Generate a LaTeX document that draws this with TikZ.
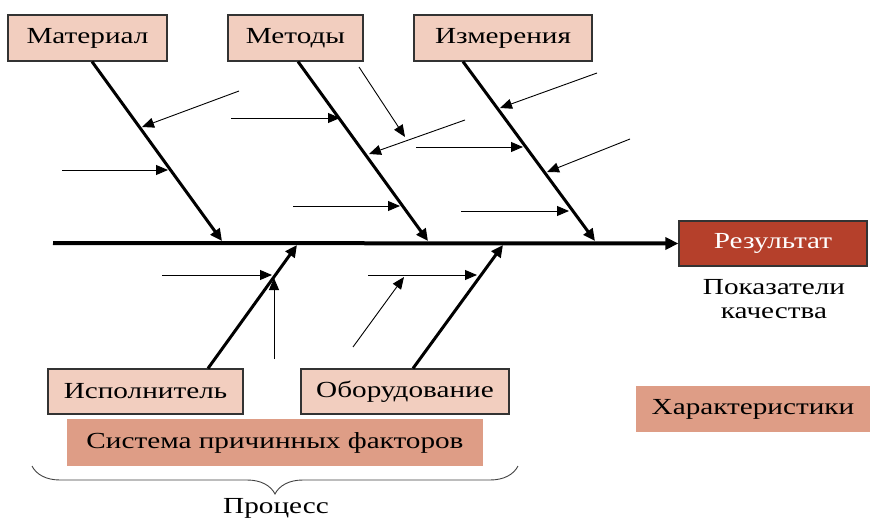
\documentclass[tikz,border=0pt]{standalone}
\usepackage{fontspec}
\setmainfont[FakeStretch=1.27]{Liberation Serif}
\usetikzlibrary{arrows.meta,calc,decorations.pathreplacing}
\definecolor{boxpink}{HTML}{F2CEBF}
\definecolor{boxsalmon}{HTML}{DE9D86}
\definecolor{resred}{HTML}{B5402B}
\definecolor{edgegray}{HTML}{333333}
\begin{document}
\begin{tikzpicture}[x=1pt,y=-1pt,
  txt/.style={font=\fontsize{23}{24}\selectfont, text=black},
  causebox/.style={txt, draw=edgegray, line width=1.2pt, fill=boxpink, inner sep=0pt},
  flatbox/.style={txt, fill=boxsalmon, inner sep=0pt},
  resbox/.style={font=\fontsize{23}{24}\selectfont, text=white, draw=black!80, line width=1.2pt, fill=resred, inner sep=0pt},
  spine/.style={line width=4pt, -{Triangle[length=13pt,width=12pt]}},
  bone/.style={line width=3pt, -{Triangle[length=12pt,width=11pt]}},
  sub/.style={line width=0.9pt, -{Triangle[length=12pt,width=10pt]}}
]
\useasboundingbox (0,0) rectangle (871,519);
% boxes
\node[causebox, minimum width=159pt, minimum height=46pt] (mat) at (87.5,38) {Материал};
\node[causebox, minimum width=135pt, minimum height=46pt] (met) at (295.5,38) {Методы};
\node[causebox, minimum width=178pt, minimum height=46pt] (izm) at (503,38) {Измерения};
\node[resbox, minimum width=188pt, minimum height=45pt] (res) at (773,243.5) {Результат};
\node[txt, align=center, inner sep=0pt] (pok) at (774,299) {Показатели\\качества};
\node[causebox, minimum width=195pt, minimum height=45pt] (isp) at (145.5,391.5) {Исполнитель};
\node[causebox, minimum width=208pt, minimum height=45pt] (obo) at (405,391.5) {Оборудование};
\node[flatbox, minimum width=416pt, minimum height=47pt] (sys) at (275,442.5) {Система причинных факторов};
\node[flatbox, minimum width=234pt, minimum height=46pt] (har) at (753,409) {Характеристики};
\node[txt, inner sep=0pt] (proc) at (276,508) {Процесс};
% spine
\coordinate (sp0) at (53,243);
\draw[spine] (sp0) -- (res.west);
% bone ends on spine
\coordinate (s1) at (222,241);
\coordinate (s2) at (428,241);
\coordinate (s3) at (595,241);
\coordinate (s4) at (297,245);
\coordinate (s5) at (503,245);
\draw[bone] ($(mat.south)+(4.5,0)$) -- (s1);
\draw[bone] ($(met.south)+(2.5,0)$) -- (s2);
\draw[bone] ($(izm.south)+(-40,0)$) -- (s3);
\draw[bone] ($(isp.north)+(62.5,0)$) -- (s4);
\draw[bone] ($(obo.north)+(8,0)$) -- (s5);
% sub-cause arrows
\coordinate (a1s) at (239,91);  \coordinate (a1e) at (142,127);
\coordinate (a2s) at (62,170);  \coordinate (a2e) at (168,170);
\coordinate (a3s) at (231,118); \coordinate (a3e) at (340,118);
\coordinate (a4s) at (359,67);  \coordinate (a4e) at (405,137);
\coordinate (a5s) at (465,120); \coordinate (a5e) at (369,154);
\coordinate (a6s) at (293,206); \coordinate (a6e) at (400,206);
\coordinate (a7s) at (597,73);  \coordinate (a7e) at (500,108);
\coordinate (a8s) at (416,147); \coordinate (a8e) at (523,147);
\coordinate (a9s) at (630,139); \coordinate (a9e) at (547,172);
\coordinate (a10s) at (461,211); \coordinate (a10e) at (569,211);
\coordinate (b1s) at (162,275); \coordinate (b1e) at (272,275);
\coordinate (b2s) at (274,359); \coordinate (b2e) at (274,278);
\coordinate (b3s) at (368,275); \coordinate (b3e) at (477,275);
\coordinate (b4s) at (353,347); \coordinate (b4e) at (404,277);
\foreach \n in {a1,a2,a3,a4,a5,a6,a7,a8,a9,a10,b1,b2,b3,b4}
  \draw[sub] (\n s) -- (\n e);
% brace
\coordinate (brL) at (32,466);
\coordinate (brR) at (518,466);
\draw[line width=0.9pt, black!75, decorate, decoration={brace, mirror, amplitude=28pt}] (brL) -- (brR);
\end{tikzpicture}
\end{document}
